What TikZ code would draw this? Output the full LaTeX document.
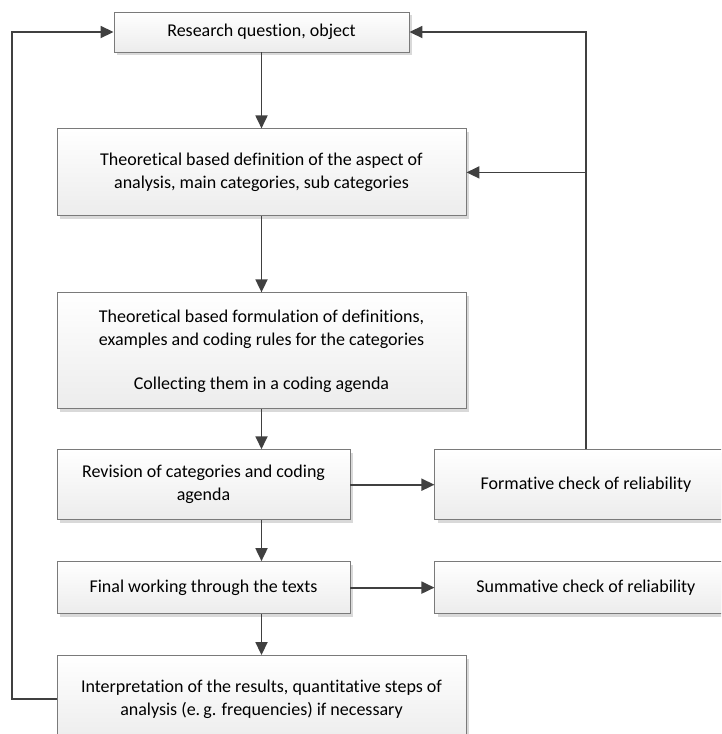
\documentclass[tikz,border=0pt]{standalone}
\usepackage{fontspec}
\setmainfont{Carlito}[Ligatures=NoCommon]
\usepackage{tikz}
\usetikzlibrary{
	arrows.meta,
	positioning,
	shadows
}
\definecolor{linegray}{HTML}{404040}
\definecolor{boxborder}{HTML}{7A7A7A}
\definecolor{boxbottom}{HTML}{ECECEC}

\begin{document}
\begin{tikzpicture}[
		x=1pt, y=1pt,
		box/.style={draw=boxborder, line width=0.9pt, top color=white, bottom color=boxbottom,
			drop shadow={shadow xshift=3pt, shadow yshift=-3pt, fill=black, opacity=0.15},
			align=center, inner sep=2pt, font=\fontsize{18}{23}\selectfont},
		arrow/.style={-{Triangle[length=13pt,width=12pt]}, line width=1.8pt, color=linegray},
		node distance=40pt
		]
		\useasboundingbox (0,0) rectangle (721,-734);
		\clip (0,0) rectangle (721,-734);
		
		% Nodes
		\node[box, minimum width=295pt, minimum height=40pt] (question) at (261.5,-32) {Research question, object};
		
		\node[box, minimum width=409pt, minimum height=87pt, below=76pt of question] (definition) {
			Theoretical based definition of the aspect of\\
			analysis, main categories, sub categories
		};
		
		\node[box, minimum width=409pt, minimum height=116pt, below=76pt of definition] (formulation) {
			Theoretical based formulation of definitions,\\
			examples and coding rules for the categories\\[21pt]
			Collecting them in a coding agenda
		};
		
		\node[box, minimum width=293pt, minimum height=70pt, below right=40pt and 0pt of formulation.south west] (revision) {
			Revision of categories and coding\\
			agenda
		};
		
		\node[box, minimum width=302pt, minimum height=70pt, right=84pt of revision] (formative) {Formative check of reliability};
		
		\node[box, minimum width=293pt, minimum height=52pt, below=41pt of revision] (working) {Final working through the texts};
		
		\node[box, minimum width=302pt, minimum height=52pt, right=84pt of working] (summative) {Summative check of reliability};
		
		\node[box, minimum width=409pt, minimum height=87pt, below right=41pt and 0pt of working.south west] (interpretation) {
			Interpretation of the results, quantitative steps of\\
			analysis (e.\,g. frequencies) if necessary
		};
		
		% Arrows
		\draw[arrow] (question) -- (definition);
		\draw[arrow] (definition) -- (formulation);
		\draw[arrow] (formulation.south) -- (formulation.south |- revision.north);
		\draw[arrow] (revision.south -| formulation.south) -- (working.north -| formulation.south);
		\draw[arrow] (working.south -| interpretation.north) -- (interpretation.north);
		\draw[arrow] (revision) -- (formative);
		\draw[arrow] (working) -- (summative);
		\draw[arrow] (formative.north) |- (question.east);
		\draw[arrow] (formative.north |- definition.east) -- (definition.east);
		\draw[arrow] (interpretation.west) -- ++(-44.5,0) |- (question.west);
		
	\end{tikzpicture}
\end{document}
